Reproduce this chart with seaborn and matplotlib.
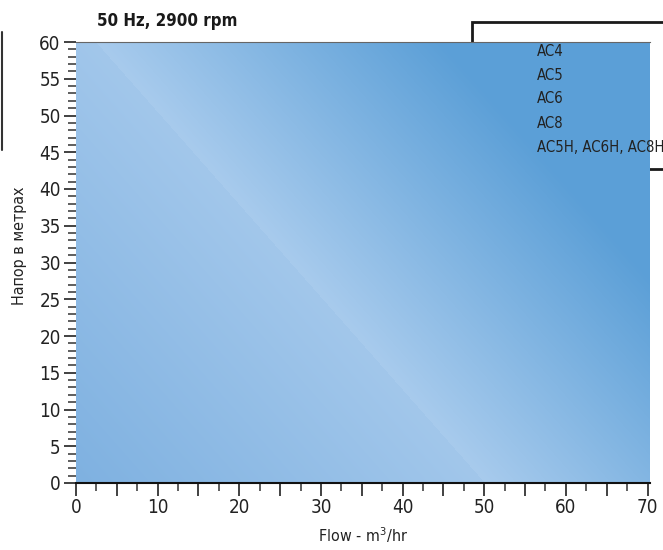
import numpy as np
import matplotlib
matplotlib.use("Agg")
import matplotlib.pyplot as plt
import seaborn as sns
from matplotlib.ticker import MultipleLocator, FuncFormatter
from matplotlib.patches import Rectangle
from matplotlib.lines import Line2D

# Chart content
title = "50 Hz, 2900 rpm"
series_names = ["AC4", "AC5", "AC6", "AC8", "AC5H, AC6H, AC8H"]
x_label = "Flow - m$^3$/hr"
y_label = "Напор в метрах"
x_range = [0, 70]
y_range = [0, 60]

sns.set_style("ticks")
plt.rcParams['font.family'] = ['DejaVu Sans']
plt.rcParams['font.stretch'] = 'condensed'
plt.rcParams['mathtext.fontset'] = 'custom'
plt.rcParams['mathtext.rm'] = 'DejaVu Sans:stretch=condensed'

fig = plt.figure(figsize=(6.63, 5.5), dpi=100)
ax = fig.add_axes([76 / 663, 67 / 550, 574 / 663, 441 / 550])

# Diagonal blue gradient covering the plot area
W, H = 574, 441
px, py = np.meshgrid(np.arange(W) + 76, np.arange(H) + 42)
n = np.array([170.0, -150.0])
n /= np.linalg.norm(n)
d = (px - 200) * n[0] + (py - 160) * n[1]
light = np.array([0xa8, 0xcb, 0xed]) / 255
right = np.array([0x5b, 0x9f, 0xd7]) / 255
left_light = np.array([0xa2, 0xc7, 0xeb]) / 255
left = np.array([0x7d, 0xb0, 0xe0]) / 255
tr = np.clip(d / 260, 0, 1)[..., None]
tl = np.clip(-d / 320, 0, 1)[..., None]
img = np.where((d >= 0)[..., None],
               light * (1 - tr) + right * tr,
               left_light * (1 - tl) + left * tl)
ax.imshow(img, extent=(x_range[0], x_range[1] + 0.3, y_range[0], y_range[1]),
          origin="upper", aspect="auto", zorder=0)

ax.set_xlim(x_range[0], x_range[1] + 0.3)
ax.set_ylim(*y_range)

ax.xaxis.set_major_locator(MultipleLocator(5))
ax.xaxis.set_minor_locator(MultipleLocator(2.5))
ax.xaxis.set_major_formatter(FuncFormatter(lambda v, p: f"{int(v)}" if v % 10 == 0 else ""))
ax.yaxis.set_major_locator(MultipleLocator(5))
ax.yaxis.set_minor_locator(MultipleLocator(1))

ax.tick_params(axis="both", which="major", direction="out", length=9, width=1.3,
               color="#333333", labelsize=13.5, labelcolor="#222222", pad=2)
ax.tick_params(axis="both", which="minor", direction="out", length=6, width=1.1,
               color="#333333")

for s in ["left", "right"]:
    ax.spines[s].set_visible(False)
ax.spines["bottom"].set_color("#111111")
ax.spines["bottom"].set_linewidth(1.5)
ax.spines["top"].set_color("#666666")
ax.spines["top"].set_linewidth(0.8)

ax.set_xlabel(x_label, fontsize=11.5, color="#222222", labelpad=6)
ax.set_ylabel(y_label, fontsize=11.5, color="#222222")
ax.yaxis.set_label_coords(-0.085, 0.537)

fig.text(97 / 663, 1 - 21 / 550, title, fontsize=12.2, fontweight="bold",
         color="#1a1a1a", va="center", ha="left")

# Legend box (sits behind the plot fill) and its entries
fig.patches.append(Rectangle((472 / 663, 1 - 169 / 550), 0.3, 147 / 550,
                             transform=fig.transFigure, facecolor="white",
                             edgecolor="#1a1a1a", linewidth=2, zorder=-1))
for i, name in enumerate(series_names):
    fig.text(537 / 663, 1 - (51 + 24 * i) / 550, name, fontsize=10.7,
             color="#222222", va="center", ha="left", zorder=5)

# stray frame edge at the far left
fig.lines.append(Line2D([1.5 / 663, 1.5 / 663], [1 - 32 / 550, 1 - 150 / 550],
                        transform=fig.transFigure, color="#333333", linewidth=1.5))

fig.savefig("out.png", dpi=100)
